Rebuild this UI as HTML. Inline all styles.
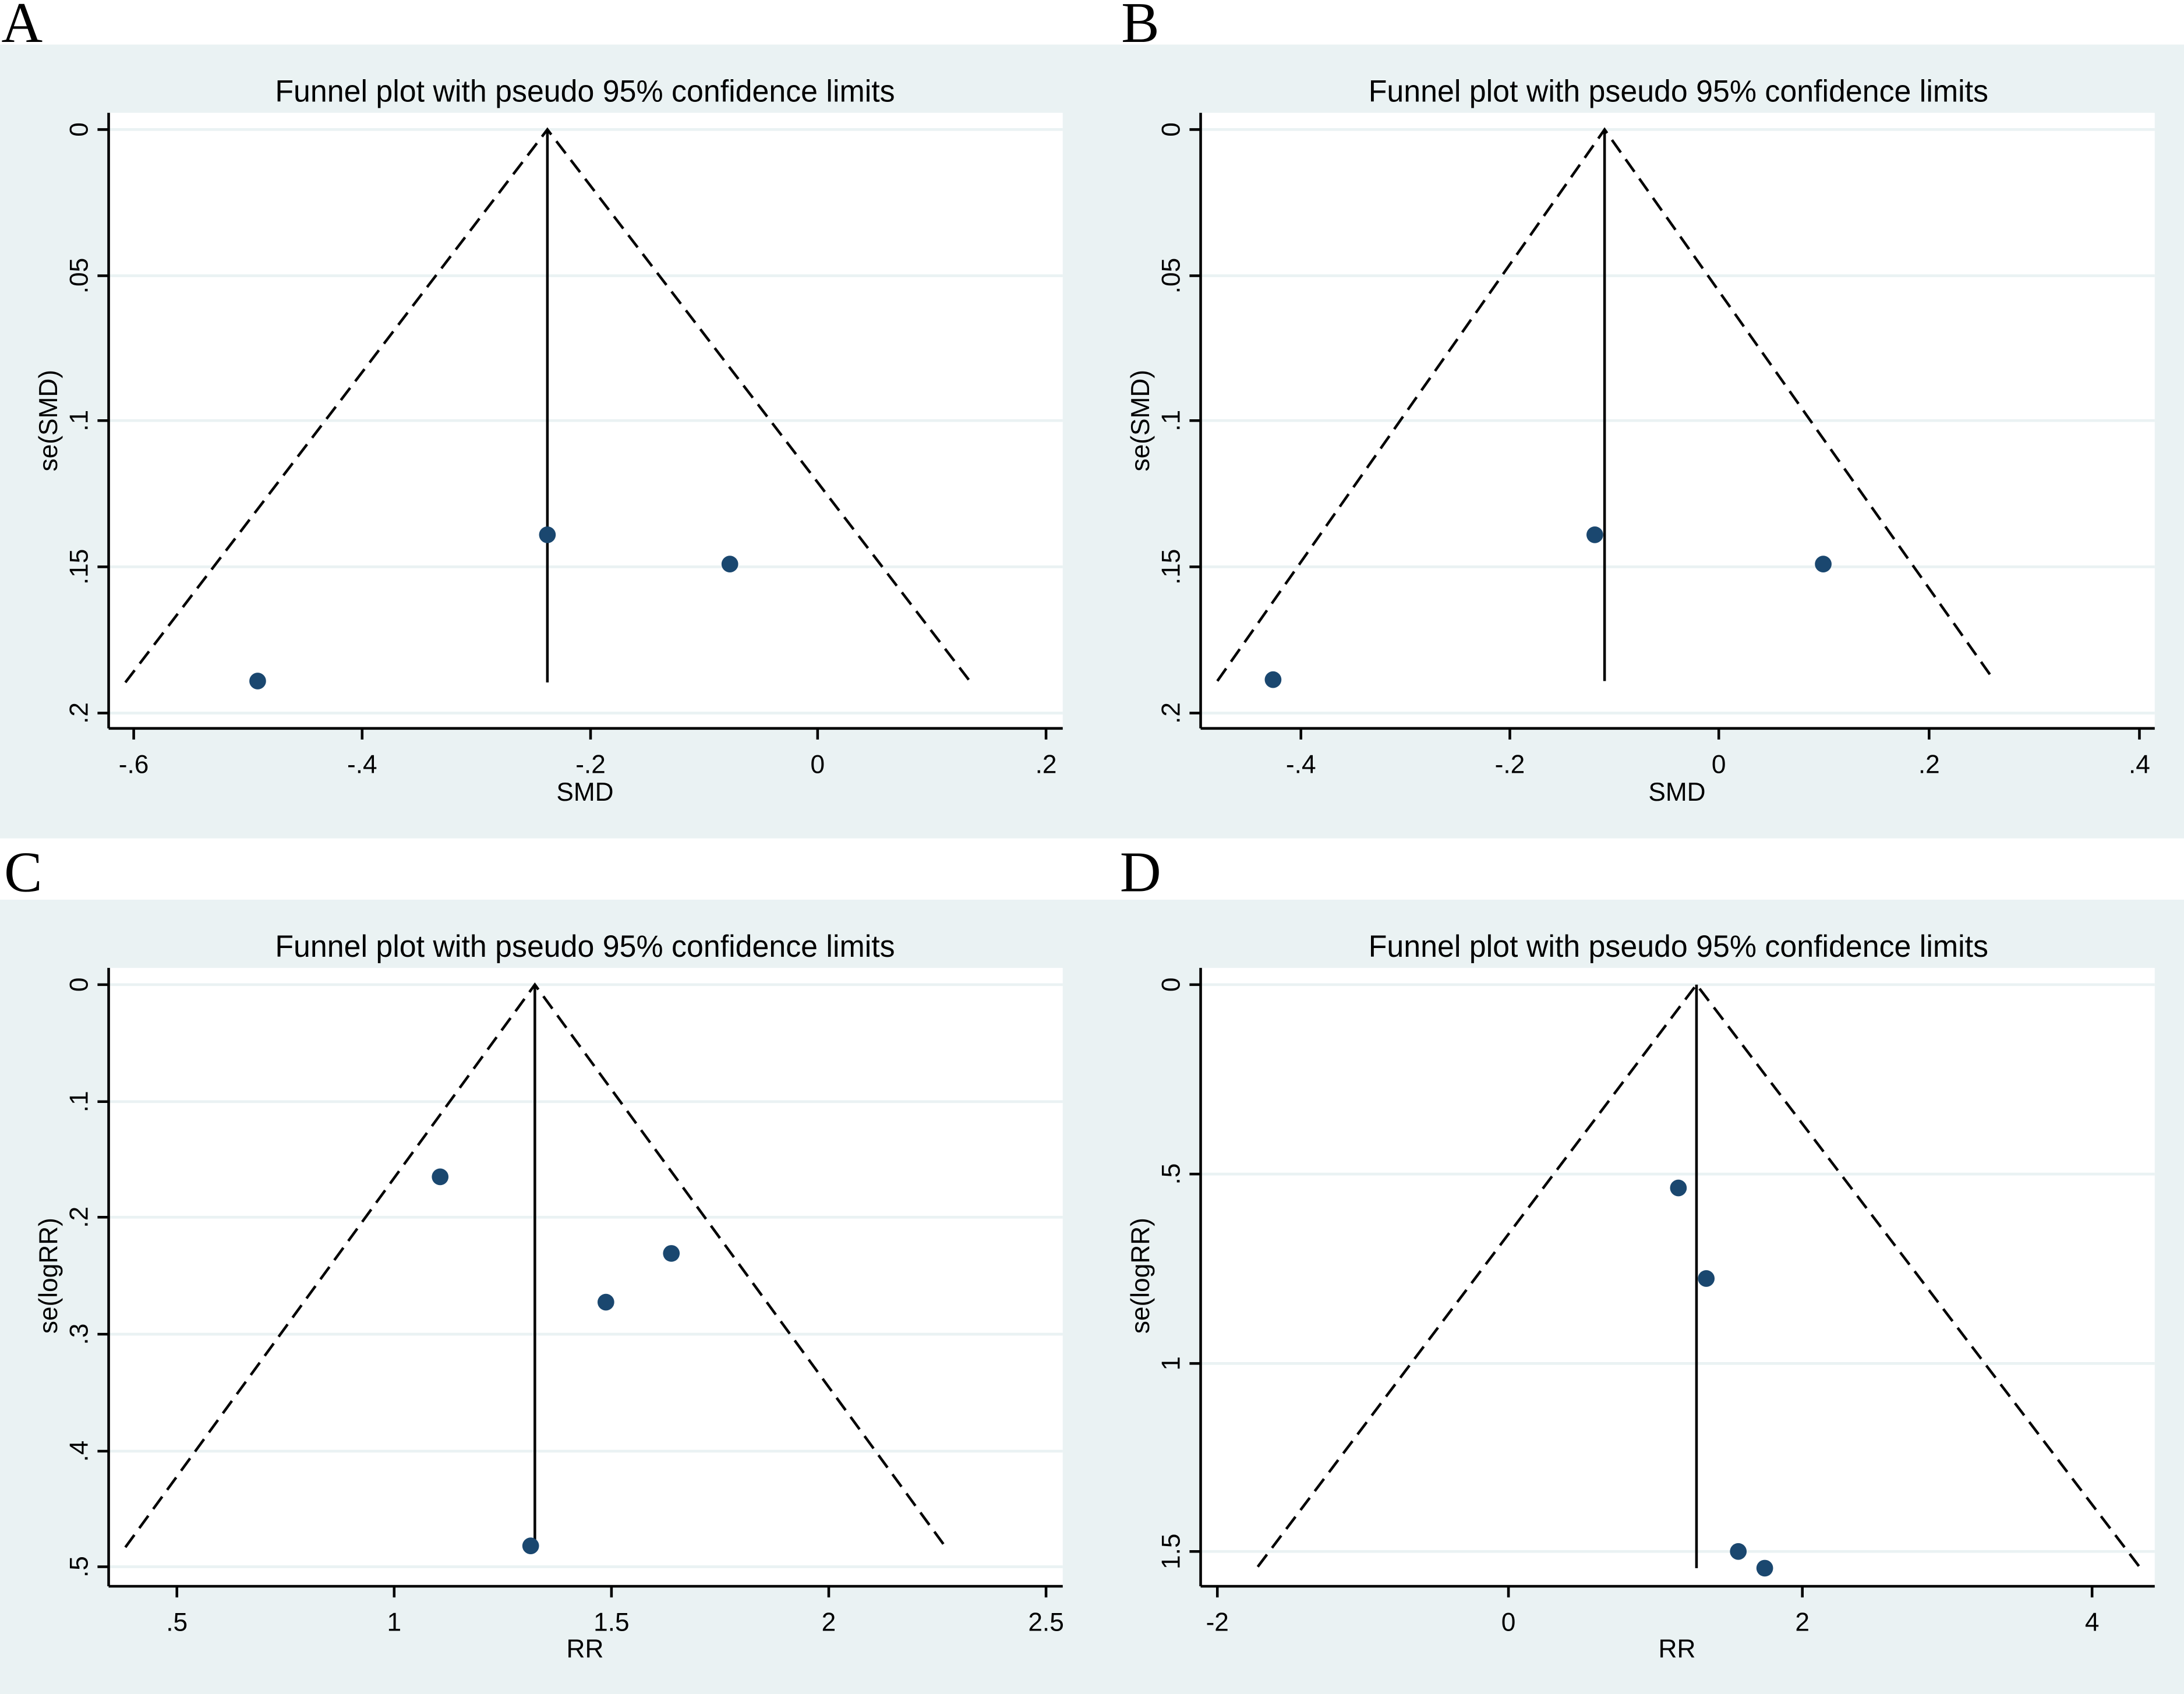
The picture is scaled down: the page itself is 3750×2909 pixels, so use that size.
<!DOCTYPE html>
<html><head><meta charset="utf-8"><style>
html,body{margin:0;padding:0;background:#fff;}
svg{display:block;}
text{font-family:"Liberation Sans",Arial,sans-serif;fill:#000;}
.L{font-family:"Liberation Serif","Times New Roman",serif;font-size:41px;}
.t{font-size:22px;}
.k{font-size:18.5px;}
</style></head><body>
<svg width="3750" height="2909" viewBox="0 0 1568 1216.35" preserveAspectRatio="none" xmlns="http://www.w3.org/2000/svg">
<rect width="1568" height="1216.35" fill="#fff"/>
<rect x="0" y="32" width="1568" height="570" fill="#eaf2f3"/>
<rect x="0" y="646" width="1568" height="571" fill="#eaf2f3"/>
<text class="L" x="1" y="30">A</text>
<text class="L" x="805" y="30">B</text>
<text class="L" x="3" y="640">C</text>
<text class="L" x="804" y="640">D</text>

<!-- Panel A -->
<g>
<rect x="78" y="81" width="685" height="442" fill="#fff"/>
<g stroke="#eaf2f3" stroke-width="2">
<line x1="79" x2="763" y1="93" y2="93"/><line x1="79" x2="763" y1="198" y2="198"/><line x1="79" x2="763" y1="302" y2="302"/><line x1="79" x2="763" y1="407" y2="407"/><line x1="79" x2="763" y1="512" y2="512"/>
</g>
<g stroke="#000" stroke-width="1.9" fill="none">
<line x1="78" y1="81" x2="78" y2="523"/><line x1="78" y1="523" x2="763" y2="523"/>
<line x1="70" x2="78" y1="93" y2="93"/><line x1="70" x2="78" y1="198" y2="198"/><line x1="70" x2="78" y1="302" y2="302"/><line x1="70" x2="78" y1="407" y2="407"/><line x1="70" x2="78" y1="512" y2="512"/>
<line x1="96" x2="96" y1="523" y2="531"/><line x1="260" x2="260" y1="523" y2="531"/><line x1="424" x2="424" y1="523" y2="531"/><line x1="587" x2="587" y1="523" y2="531"/><line x1="751" x2="751" y1="523" y2="531"/>
<line x1="393" y1="93" x2="393" y2="490"/>
<polyline points="90,490 393,93 697,490" stroke-dasharray="11,6"/>
</g>
<g fill="#1a476f"><circle cx="393" cy="384" r="6"/><circle cx="524" cy="405" r="6"/><circle cx="185" cy="489" r="6"/></g>
<text class="t" x="420" y="73" text-anchor="middle" textLength="445" lengthAdjust="spacingAndGlyphs">Funnel plot with pseudo 95% confidence limits</text>
<g text-anchor="middle">
<text x="96" y="555" class="k">-.6</text><text x="260" y="555" class="k">-.4</text><text x="424" y="555" class="k">-.2</text><text x="587" y="555" class="k">0</text><text x="751" y="555" class="k">.2</text>
<text x="420" y="575" class="k">SMD</text>
<text transform="translate(63,93) rotate(-90)" class="k">0</text>
<text transform="translate(63,198) rotate(-90)" class="k">.05</text>
<text transform="translate(63,302) rotate(-90)" class="k">.1</text>
<text transform="translate(63,407) rotate(-90)" class="k">.15</text>
<text transform="translate(63,512) rotate(-90)" class="k">.2</text>
<text transform="translate(41,302) rotate(-90)" class="k">se(SMD)</text>
</g>
</g>

<!-- Panel B -->
<g>
<rect x="862" y="81" width="685" height="442" fill="#fff"/>
<g stroke="#eaf2f3" stroke-width="2">
<line x1="863" x2="1547" y1="93" y2="93"/><line x1="863" x2="1547" y1="198" y2="198"/><line x1="863" x2="1547" y1="302" y2="302"/><line x1="863" x2="1547" y1="407" y2="407"/><line x1="863" x2="1547" y1="512" y2="512"/>
</g>
<g stroke="#000" stroke-width="1.9" fill="none">
<line x1="862" y1="81" x2="862" y2="523"/><line x1="862" y1="523" x2="1547" y2="523"/>
<line x1="854" x2="862" y1="93" y2="93"/><line x1="854" x2="862" y1="198" y2="198"/><line x1="854" x2="862" y1="302" y2="302"/><line x1="854" x2="862" y1="407" y2="407"/><line x1="854" x2="862" y1="512" y2="512"/>
<line x1="934" x2="934" y1="523" y2="531"/><line x1="1084" x2="1084" y1="523" y2="531"/><line x1="1234" x2="1234" y1="523" y2="531"/><line x1="1385" x2="1385" y1="523" y2="531"/><line x1="1536" x2="1536" y1="523" y2="531"/>
<line x1="1152" y1="93" x2="1152" y2="489"/>
<polyline points="874,489 1152,93 1432,489" stroke-dasharray="11,6"/>
</g>
<g fill="#1a476f"><circle cx="1145" cy="384" r="6"/><circle cx="1309" cy="405" r="6"/><circle cx="914" cy="488" r="6"/></g>
<text class="t" x="1205" y="73" text-anchor="middle" textLength="445" lengthAdjust="spacingAndGlyphs">Funnel plot with pseudo 95% confidence limits</text>
<g text-anchor="middle">
<text x="934" y="555" class="k">-.4</text><text x="1084" y="555" class="k">-.2</text><text x="1234" y="555" class="k">0</text><text x="1385" y="555" class="k">.2</text><text x="1536" y="555" class="k">.4</text>
<text x="1204" y="575" class="k">SMD</text>
<text transform="translate(847,93) rotate(-90)" class="k">0</text>
<text transform="translate(847,198) rotate(-90)" class="k">.05</text>
<text transform="translate(847,302) rotate(-90)" class="k">.1</text>
<text transform="translate(847,407) rotate(-90)" class="k">.15</text>
<text transform="translate(847,512) rotate(-90)" class="k">.2</text>
<text transform="translate(825,302) rotate(-90)" class="k">se(SMD)</text>
</g>
</g>

<!-- Panel C -->
<g>
<rect x="78" y="695" width="685" height="444" fill="#fff"/>
<g stroke="#eaf2f3" stroke-width="2">
<line x1="79" x2="763" y1="707" y2="707"/><line x1="79" x2="763" y1="791" y2="791"/><line x1="79" x2="763" y1="874" y2="874"/><line x1="79" x2="763" y1="958" y2="958"/><line x1="79" x2="763" y1="1042" y2="1042"/><line x1="79" x2="763" y1="1125" y2="1125"/>
</g>
<g stroke="#000" stroke-width="1.9" fill="none">
<line x1="78" y1="695" x2="78" y2="1139"/><line x1="78" y1="1139" x2="763" y2="1139"/>
<line x1="70" x2="78" y1="707" y2="707"/><line x1="70" x2="78" y1="791" y2="791"/><line x1="70" x2="78" y1="874" y2="874"/><line x1="70" x2="78" y1="958" y2="958"/><line x1="70" x2="78" y1="1042" y2="1042"/><line x1="70" x2="78" y1="1125" y2="1125"/>
<line x1="127" x2="127" y1="1139" y2="1147"/><line x1="283" x2="283" y1="1139" y2="1147"/><line x1="439" x2="439" y1="1139" y2="1147"/><line x1="595" x2="595" y1="1139" y2="1147"/><line x1="751" x2="751" y1="1139" y2="1147"/>
<line x1="384" y1="707" x2="384" y2="1111"/>
<polyline points="90,1111 384,707 679,1111" stroke-dasharray="11,6"/>
</g>
<g fill="#1a476f"><circle cx="316" cy="845" r="6"/><circle cx="482" cy="900" r="6"/><circle cx="435" cy="935" r="6"/><circle cx="381" cy="1110" r="6"/></g>
<text class="t" x="420" y="687" text-anchor="middle" textLength="445" lengthAdjust="spacingAndGlyphs">Funnel plot with pseudo 95% confidence limits</text>
<g text-anchor="middle">
<text x="127" y="1171" class="k">.5</text><text x="283" y="1171" class="k">1</text><text x="439" y="1171" class="k">1.5</text><text x="595" y="1171" class="k">2</text><text x="751" y="1171" class="k">2.5</text>
<text x="420" y="1190" class="k">RR</text>
<text transform="translate(63,707) rotate(-90)" class="k">0</text>
<text transform="translate(63,791) rotate(-90)" class="k">.1</text>
<text transform="translate(63,874) rotate(-90)" class="k">.2</text>
<text transform="translate(63,958) rotate(-90)" class="k">.3</text>
<text transform="translate(63,1042) rotate(-90)" class="k">.4</text>
<text transform="translate(63,1125) rotate(-90)" class="k">.5</text>
<text transform="translate(41,916) rotate(-90)" class="k">se(logRR)</text>
</g>
</g>

<!-- Panel D -->
<g>
<rect x="862" y="695" width="685" height="444" fill="#fff"/>
<g stroke="#eaf2f3" stroke-width="2">
<line x1="863" x2="1547" y1="707" y2="707"/><line x1="863" x2="1547" y1="843" y2="843"/><line x1="863" x2="1547" y1="979" y2="979"/><line x1="863" x2="1547" y1="1114" y2="1114"/>
</g>
<g stroke="#000" stroke-width="1.9" fill="none">
<line x1="862" y1="695" x2="862" y2="1139"/><line x1="862" y1="1139" x2="1547" y2="1139"/>
<line x1="854" x2="862" y1="707" y2="707"/><line x1="854" x2="862" y1="843" y2="843"/><line x1="854" x2="862" y1="979" y2="979"/><line x1="854" x2="862" y1="1114" y2="1114"/>
<line x1="874" x2="874" y1="1139" y2="1147"/><line x1="1083" x2="1083" y1="1139" y2="1147"/><line x1="1294" x2="1294" y1="1139" y2="1147"/><line x1="1502" x2="1502" y1="1139" y2="1147"/>
<line x1="1218" y1="707" x2="1218" y2="1126"/>
<polyline points="903,1125 1218,707 1536,1125" stroke-dasharray="11,6"/>
</g>
<g fill="#1a476f"><circle cx="1205" cy="853" r="6"/><circle cx="1225" cy="918" r="6"/><circle cx="1248" cy="1114" r="6"/><circle cx="1267" cy="1126" r="6"/></g>
<text class="t" x="1205" y="687" text-anchor="middle" textLength="445" lengthAdjust="spacingAndGlyphs">Funnel plot with pseudo 95% confidence limits</text>
<g text-anchor="middle">
<text x="874" y="1171" class="k">-2</text><text x="1083" y="1171" class="k">0</text><text x="1294" y="1171" class="k">2</text><text x="1502" y="1171" class="k">4</text>
<text x="1204" y="1190" class="k">RR</text>
<text transform="translate(847,707) rotate(-90)" class="k">0</text>
<text transform="translate(847,843) rotate(-90)" class="k">.5</text>
<text transform="translate(847,979) rotate(-90)" class="k">1</text>
<text transform="translate(847,1114) rotate(-90)" class="k">1.5</text>
<text transform="translate(825,916) rotate(-90)" class="k">se(logRR)</text>
</g>
</g>
</svg>
</body></html>
